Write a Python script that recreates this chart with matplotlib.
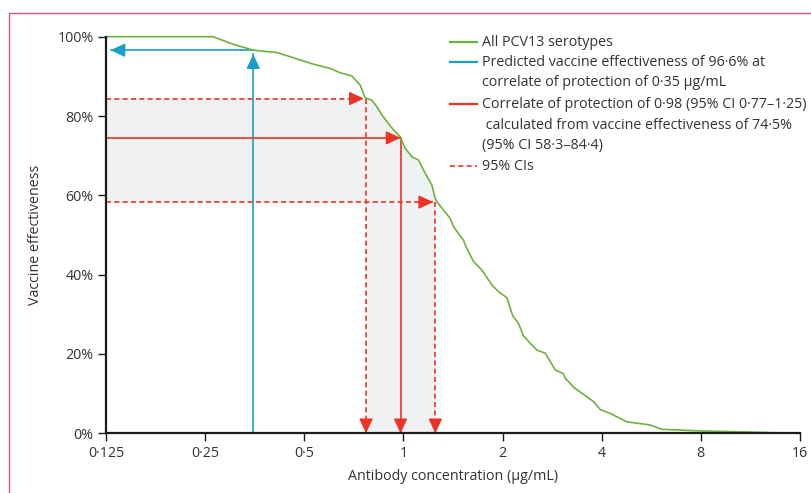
import numpy as np
import matplotlib
matplotlib.use("Agg")
import matplotlib.pyplot as plt
from matplotlib.lines import Line2D
from matplotlib.patches import Rectangle

conc = [0.125, 0.264, 0.304, 0.350, 0.413, 0.532, 0.599, 0.643, 0.697, 0.739,
        0.756, 0.765, 0.802, 0.831, 0.860, 0.891, 0.933, 0.977, 1.012, 1.061,
        1.111, 1.164, 1.220, 1.248, 1.263, 1.323, 1.386, 1.419, 1.521, 1.558,
        1.632, 1.730, 1.856, 1.944, 2.061, 2.147, 2.236, 2.310, 2.426, 2.542,
        2.695, 2.890, 3.063, 3.100, 3.300, 3.776, 3.958, 4.245, 4.770, 5.614,
        6.093, 8.0, 16.0]
ve = [100, 100, 98.1, 96.6, 96.0, 93.1, 92.0, 90.9, 90.1, 87.8,
      85.7, 84.6, 84.0, 82.3, 80.3, 78.6, 76.5, 74.8, 71.9, 69.7,
      68.9, 65.6, 62.6, 59.3, 58.4, 56.3, 54.2, 52.1, 48.7, 46.6,
      43.3, 41.2, 37.4, 35.7, 34.2, 29.6, 27.7, 24.7, 22.7, 21.0,
      20.2, 16.0, 15.0, 13.9, 11.5, 8.0, 6.0, 5.0, 2.9, 2.1,
      1.0, 0.6, 0.0]

pred_conc, pred_ve = 0.35, 96.6
cop, cop_lo, cop_hi = 0.98, 0.77, 1.25
ve_est, ve_lo, ve_hi = 74.5, 58.3, 84.4

xticks = [0.125, 0.25, 0.5, 1, 2, 4, 8, 16]
xticklabels = ["0·125", "0·25", "0·5", "1", "2", "4", "8", "16"]
yticks = [0, 20, 40, 60, 80, 100]

legend_labels = [
    "All PCV13 serotypes",
    "Predicted vaccine effectiveness of 96·6% at\ncorrelate of protection of 0·35 µg/mL",
    "Correlate of protection of 0·98 (95% CI 0·77–1·25)\n calculated from vaccine effectiveness of 74·5%\n(95% CI 58·3–84·4)",
    "95% CIs",
]

GREEN = "#6ab43c"
BLUE = "#1b9dc9"
RED = "#ec3326"
GREY = "#f0f1f3"
TXT = "#333333"
FS = 10.3

plt.rcParams["font.family"] = ["Open Sans", "DejaVu Sans"]
plt.rcParams["font.size"] = FS

fig = plt.figure(figsize=(8.11, 4.93), dpi=100)
ax = fig.add_axes([106 / 811, 1 - 433.3 / 493, (800 - 106) / 811, (433.3 - 36.7) / 493])
ax.set_xscale("log", base=2)
ax.set_xlim(0.125, 16)
ax.set_ylim(0, 100)

# shaded CI region
lc, lv = np.log(conc), np.array(ve)
xs = np.exp(np.linspace(np.log(0.125), np.log(cop_hi), 300))
cv = np.interp(np.log(xs), lc, lv)
ax.fill_between(xs, ve_lo, np.minimum(ve_hi, cv), color=GREY, lw=0, zorder=1)
xs2 = np.exp(np.linspace(np.log(cop_lo), np.log(cop_hi), 100))
cv2 = np.interp(np.log(xs2), lc, lv)
ax.fill_between(xs2, 0, cv2, color=GREY, lw=0, zorder=1)

ax.plot(conc, ve, color=GREEN, lw=1.2, zorder=4, clip_on=False)


def arrow(x0, y0, x1, y1, color, ls="-"):
    ax.plot([x0, x1], [y0, y1], color=color, lw=1.2, ls=ls, zorder=3)
    dx = 0 if x0 == x1 else (-1 if x1 > x0 else 1)
    dy = 0 if y0 == y1 else (-1 if y1 > y0 else 1)
    ax.annotate("", xy=(x1, y1), xytext=(dx * 9, dy * 9), textcoords="offset points",
                arrowprops=dict(arrowstyle="-|>,head_length=0.9,head_width=0.42",
                                mutation_scale=10, color=color, lw=1.0,
                                shrinkA=0, shrinkB=0), zorder=5)


dash = (0, (3, 2))
# blue: predicted VE at 0.35
arrow(pred_conc, 0, pred_conc, pred_ve - 1.0, BLUE)
arrow(pred_conc, pred_ve, 0.129, pred_ve, BLUE)
# red: correlate of protection
arrow(0.125, ve_est, cop, ve_est, RED)
arrow(cop, ve_est, cop, 0, RED)
arrow(0.125, ve_hi, cop_lo * 0.985, ve_hi, RED, dash)
arrow(cop_lo, ve_hi, cop_lo, 0, RED, dash)
arrow(0.125, ve_lo, cop_hi * 0.985, ve_lo, RED, dash)
arrow(cop_hi, ve_lo, cop_hi, 0, RED, dash)

for s in ["top", "right"]:
    ax.spines[s].set_visible(False)
for s in ["left", "bottom"]:
    ax.spines[s].set_linewidth(1.6)
    ax.spines[s].set_color("#1a1a1a")
    ax.spines[s].set_zorder(6)
ax.set_xticks(xticks)
ax.set_xticklabels(xticklabels)
ax.xaxis.set_minor_locator(matplotlib.ticker.NullLocator())
ax.set_yticks(yticks)
ax.set_yticklabels([f"{v}%" for v in yticks])
ax.tick_params(length=6, width=1.0, color="#1a1a1a", labelcolor=TXT, labelsize=FS, pad=3)
ax.set_xlabel("Antibody concentration (µg/mL)", color=TXT, fontsize=FS, labelpad=6)
ax.set_ylabel("Vaccine effectiveness", color=TXT, fontsize=FS, labelpad=10)

# legend drawn by hand so handles align with the first line of each label
rows = [(GREEN, "-", 42), (BLUE, "-", 62), (RED, "-", 104), (RED, dash, 166)]
for (col, ls, yp), lab in zip(rows, legend_labels):
    yf = 1 - yp / 493
    fig.add_artist(Line2D([450 / 811, 477 / 811], [yf, yf], color=col, lw=1.6 if ls == "-" else 1.2,
                          ls=ls, transform=fig.transFigure))
    fig.text(482 / 811, 1 - (yp - 7) / 493, lab, color=TXT, fontsize=FS, va="top", ha="left",
             linespacing=1.5)

fig.add_artist(Rectangle((9 / 811, -0.1), 1.2, 1 - 13 / 493 + 0.1, transform=fig.transFigure,
                         fill=False, edgecolor="#d9587c", lw=1.0))

fig.savefig("out.png", dpi=100)
